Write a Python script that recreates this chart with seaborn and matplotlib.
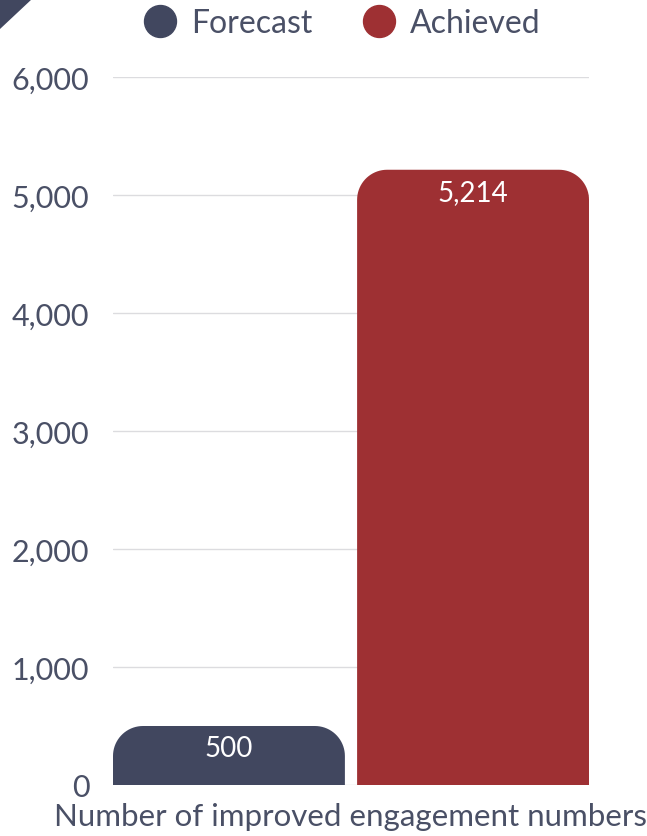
import numpy as np
import pandas as pd
import matplotlib
matplotlib.use("Agg")
import matplotlib.pyplot as plt
from matplotlib.patches import Polygon
from matplotlib.lines import Line2D
import seaborn as sns

# Data
categories = ["Number of improved engagement numbers"]
series = ["Forecast", "Achieved"]
values = [500, 5214]
value_labels = ["500", "5,214"]
y_ticks = [0, 1000, 2000, 3000, 4000, 5000, 6000]
y_tick_labels = ["0", "1,000", "2,000", "3,000", "4,000", "5,000", "6,000"]

NAVY = "#41475f"
RED = "#9e3033"
TEXT = "#4a5066"
GRID = "#dcdcdf"

sns.set_theme(style="white")
plt.rcParams["font.family"] = ["Lato", "DejaVu Sans"]

df = pd.DataFrame({
    "category": categories * len(series),
    "series": series,
    "value": values,
})

W, H = 647, 837
fig = plt.figure(figsize=(W / 100, H / 100), dpi=100)
ax = fig.add_axes([113 / W, 1 - 786 / H, 476 / W, 708 / H])

sns.barplot(data=df, x="category", y="value", hue="series",
            palette=[NAVY, RED], width=0.8, gap=0.05, ax=ax,
            legend=False, saturation=1, zorder=3)

bars = [p for p in ax.patches][:len(values)]
x0 = min(p.get_x() for p in bars)
x1 = max(p.get_x() + p.get_width() for p in bars)
ax.set_xlim(x0, x1)
ax.set_ylim(0, 6000)

# horizontal gridlines
for t in y_ticks:
    ax.axhline(t, color=GRID, lw=1.0, zorder=1)

for s in ax.spines.values():
    s.set_visible(False)

ax.set_yticks(y_ticks)
ax.set_yticklabels(y_tick_labels)
ax.tick_params(axis="y", length=0, pad=17, labelsize=22, labelcolor=TEXT)
ax.tick_params(axis="x", length=0, pad=12, labelsize=22.5, labelcolor=TEXT)
ax.set_xlabel("")
ax.set_ylabel("")

# Replace bar rectangles with top-rounded shapes
fig.canvas.draw()
r_px = 30
inv = ax.transData.inverted()
p0 = inv.transform((0, 0))
p1 = inv.transform((r_px, r_px))
rx, ry = p1[0] - p0[0], p1[1] - p0[1]
for p, lab in zip(bars, value_labels):
    bx, bw, bh = p.get_x(), p.get_width(), p.get_height()
    fc = p.get_facecolor()
    p.set_visible(False)
    ryy = min(ry, bh)
    th_r = np.linspace(0, np.pi / 2, 20)
    th_l = np.linspace(np.pi / 2, np.pi, 20)
    pts = [(bx + bw, 0)]
    pts += [(bx + bw - rx + rx * np.cos(t), bh - ryy + ryy * np.sin(t)) for t in th_r]
    pts += [(bx + rx + rx * np.cos(t), bh - ryy + ryy * np.sin(t)) for t in th_l]
    pts += [(bx, 0)]
    ax.add_patch(Polygon(pts, closed=True, facecolor=fc, edgecolor="none", zorder=3))
    ax.annotate(lab, (bx + bw / 2, bh), xytext=(0, -16), textcoords="offset points",
                ha="center", va="center", color="white", fontsize=20, zorder=4)

# Legend
handles = [Line2D([], [], marker="o", linestyle="none", markersize=23,
                  markerfacecolor=c, markeredgecolor=c) for c in (NAVY, RED)]
fig.legend(handles, series, loc="center left", bbox_to_anchor=(144 / W, 1 - 24 / H),
           ncol=2, frameon=False, fontsize=23, labelcolor=TEXT,
           handlelength=1.0, handletextpad=0.47, columnspacing=1.6,
           borderpad=0, borderaxespad=0)

# corner triangle
fig.patches.append(Polygon([(0, 1), (32 / W, 1), (0, 1 - 30 / H)], closed=True,
                           transform=fig.transFigure, facecolor=NAVY,
                           edgecolor="none"))

fig.savefig("out.png", dpi=100)
